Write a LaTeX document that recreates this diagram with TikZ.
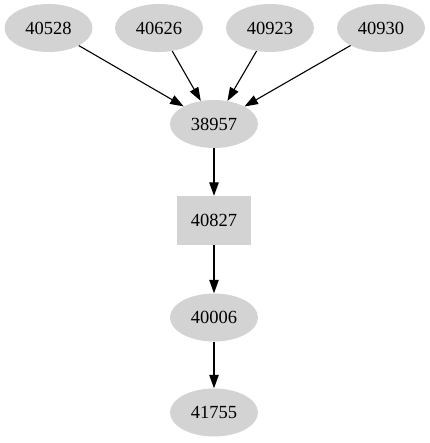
\documentclass[tikz,border=0pt]{standalone}
\usepackage{fontspec}
\setmainfont{Liberation Serif}
\usetikzlibrary{shapes.geometric,arrows.meta}
\definecolor{lgray}{RGB}{211,211,211}
\begin{document}
\begin{tikzpicture}[x=1pt,y=-1pt,
  ell/.style={ellipse,fill=lgray,draw=none,minimum width=88pt,minimum height=48pt,inner sep=0pt,font=\fontsize{18.5}{20}\selectfont},
  boxn/.style={rectangle,fill=lgray,draw=none,minimum width=74pt,minimum height=49pt,inner sep=0pt,font=\fontsize{18.5}{20}\selectfont},
  edge/.style={draw=black,line width=1.1pt,-{Triangle[length=13.5pt,width=9.5pt]}}]
\useasboundingbox (0,0) rectangle (429,443);
\node[ell] (a) at (48.5,28) {40528};
\node[ell] (b) at (159,28) {40626};
\node[ell] (c) at (270,28) {40923};
\node[ell] (d) at (381,28) {40930};
\node[ell] (e) at (214,124) {38957};
\node[boxn] (f) at (214,220.5) {40827};
\node[ell] (g) at (214,317.5) {40006};
\node[ell] (h) at (214,412.5) {41755};
\draw[edge] (a) -- (e);
\draw[edge] (b) -- (e);
\draw[edge] (c) -- (e);
\draw[edge] (d) -- (e);
\draw[edge] (e) -- (f);
\draw[edge] (f) -- (g);
\draw[edge] (g) -- (h);
\end{tikzpicture}
\end{document}
